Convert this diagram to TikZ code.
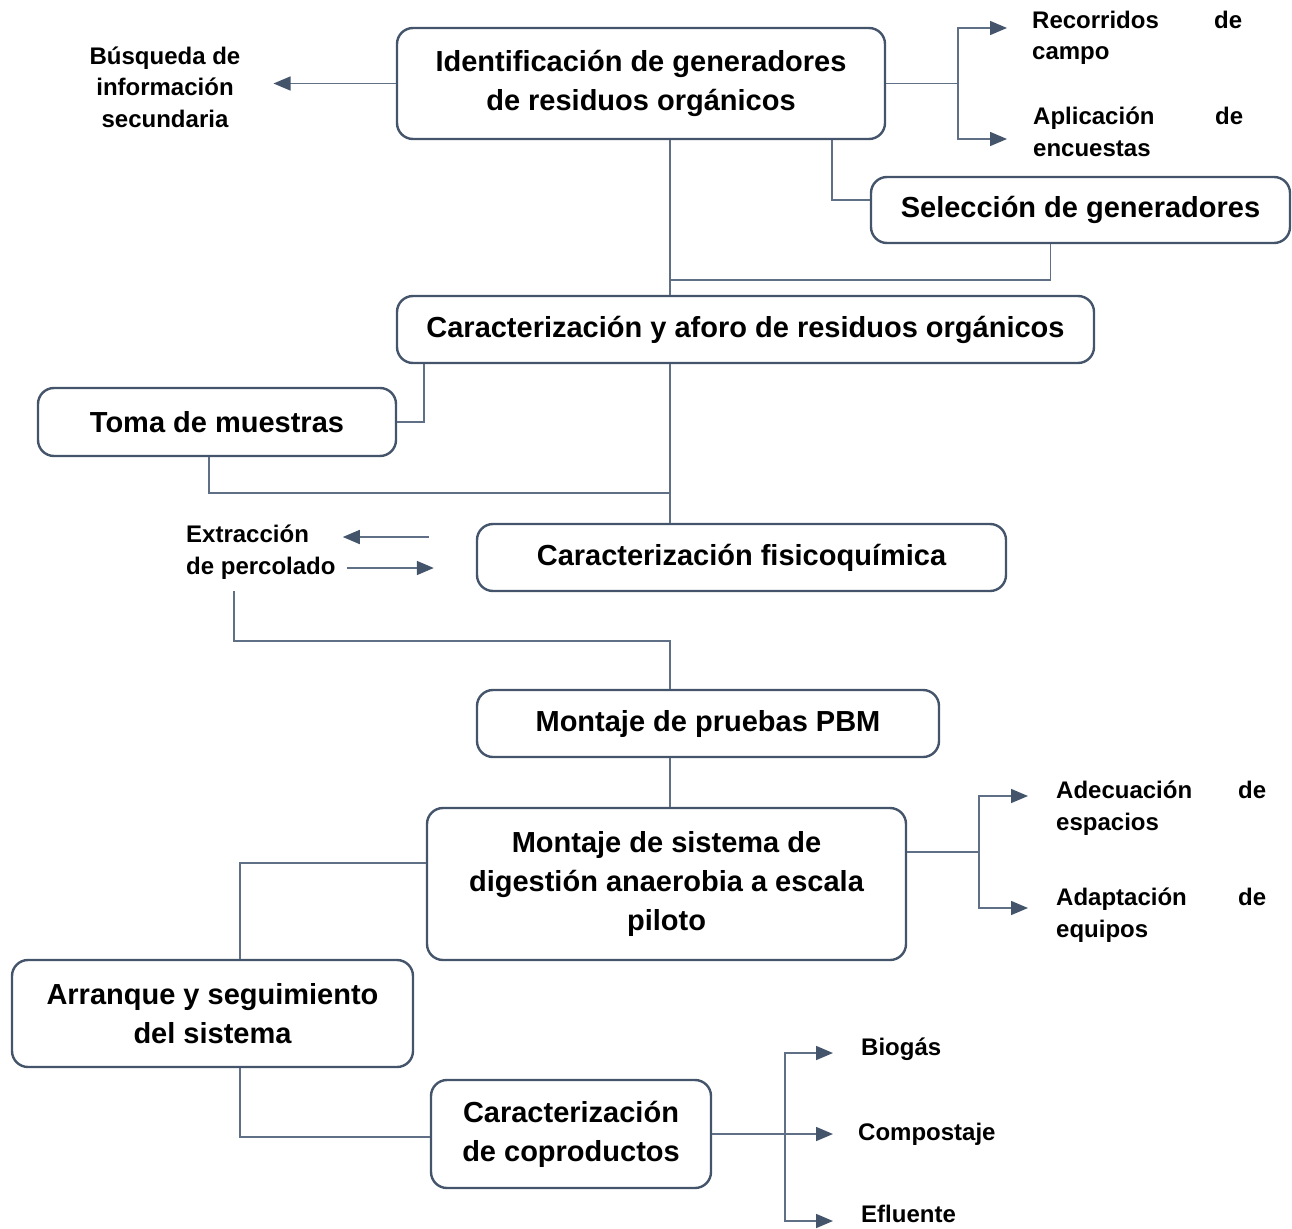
\documentclass[tikz,border=0pt]{standalone}
\usepackage{fontspec}
\setmainfont{Liberation Sans}
\usetikzlibrary{arrows.meta, positioning, calc}
\definecolor{boxline}{HTML}{44546A}
\definecolor{linkline}{HTML}{5F6F85}
\newcommand{\spreadline}[2]{\makebox[210pt][s]{#1\hfill #2}}

\begin{document}
\begin{tikzpicture}[x=1pt, y=-1pt,
    stage/.style={draw=boxline, line width=2.4pt, rounded corners=16pt, fill=white,
        align=center, inner sep=0pt, font=\fontsize{29}{39}\selectfont\bfseries},
    note/.style={inner sep=0pt, font=\fontsize{24}{31.5}\selectfont\bfseries},
    conn/.style={draw=linkline, line width=1.6pt},
    arr/.style={conn, -{Triangle[length=17pt, width=14pt, color=boxline]}}]
    \useasboundingbox (0,0) rectangle (1292,1228);

    % etapas
    \node[stage, minimum width=488pt, minimum height=111pt] (ident) at (641,83.5)
        {Identificación de generadores\\de residuos orgánicos};
    \node[stage, minimum width=419pt, minimum height=66pt] (sel) at (1080.5,210)
        {Selección de generadores};
    \node[stage, minimum width=697pt, minimum height=67pt] (aforo) at (745.5,329.5)
        {Caracterización y aforo de residuos orgánicos};
    \node[stage, minimum width=358pt, minimum height=68pt] (toma) at (217,422)
        {Toma de muestras};
    \node[stage, minimum width=529pt, minimum height=67pt] (fisico) at (741.5,557.5)
        {Caracterización fisicoquímica};
    \node[stage, minimum width=462pt, minimum height=67pt] (pbm) at (708,723.5)
        {Montaje de pruebas PBM};
    \node[stage, minimum width=479pt, minimum height=152pt] (montaje) at (666.5,884)
        {Montaje de sistema de\\digestión anaerobia a escala\\piloto};
    \node[stage, minimum width=401pt, minimum height=107pt] (arranque) at (212.5,1013.5)
        {Arranque y seguimiento\\del sistema};
    \node[stage, minimum width=280pt, minimum height=108pt] (copro) at (571,1134)
        {Caracterización\\de coproductos};

    % actividades
    \node[note, align=center] (busq) at (165,87) {Búsqueda de\\información\\secundaria};
    \node[note, align=left, anchor=west] (reco) at (1032,38) {\spreadline{Recorridos}{de}\\campo};
    \node[note, align=left, anchor=west] (apli) at (1033,132) {\spreadline{Aplicación}{de}\\encuestas};
    \node[note, align=left, anchor=west] (extr) at (186,552) {Extracción\\de percolado};
    \node[note, align=left, anchor=west] (adec) at (1056,808) {\spreadline{Adecuación}{de}\\espacios};
    \node[note, align=left, anchor=west] (adap) at (1056,915) {\spreadline{Adaptación}{de}\\equipos};
    \node[note, anchor=west] (bio) at (861,1049) {Biogás};
    \node[note, anchor=west] (comp) at (858,1134) {Compostaje};
    \node[note, anchor=west] (eflu) at (861,1214) {Efluente};

    % conexiones
    \coordinate (spine) at (670,0);
    \draw[conn] (ident.south -| spine) -- (aforo.north -| spine);
    \draw[conn] ($(ident.south)+(191,0)$) |- ($(sel.west)+(0,-10)$);
    \draw[conn] ($(sel.south)+(-30,0)$) |- ($(spine)+(0,280)$);
    \draw[conn] (aforo.south -| spine) -- (fisico.north -| spine);
    \draw[conn] ($(aforo.south west)+(28,0)$) |- (toma.east);
    \draw[conn] ($(toma.south)+(-8,0)$) |- ($(spine)+(0,493)$);
    \draw[conn] ($(extr.south west)+(48,12)$) |- ($(spine)+(0,641)$) -- (pbm.north -| spine);
    \draw[conn] (pbm.south -| spine) -- (montaje.north -| spine);
    \draw[conn] ($(montaje.west)+(0,-21)$) -| ($(arranque.north)+(27.5,0)$);
    \draw[conn] ($(arranque.south)+(27.5,0)$) |- ($(copro.west)+(0,3)$);

    % flechas
    \draw[arr] (ident.west) -- ($(ident.west -| busq.east)+(33,0)$);
    \draw[conn] (ident.east) -- ++(72,0) coordinate (f1);
    \draw[arr] (f1) |- ($(reco.west)+(-25,-10)$);
    \draw[arr] (f1) |- ($(apli.west)+(-26,7)$);
    \draw[arr] ($(fisico.west)+(-47,-20.5)$) -- ($(extr.east)+(7,-15)$);
    \draw[arr] ($(extr.east)+(11,16)$) -- ($(fisico.west)+(-42,10.5)$);
    \draw[conn] ($(montaje.east)+(0,-32)$) -- ++(72,0) coordinate (f2);
    \draw[arr] (f2) |- ($(adec.west)+(-28,-12)$);
    \draw[arr] (f2) |- ($(adap.west)+(-28,-7)$);
    \draw[conn] (copro.east) -- ++(73,0) coordinate (f3);
    \draw[arr] (f3) |- ($(bio.west)+(-28,4)$);
    \draw[arr] (f3) -- ($(comp.west)+(-25,0)$);
    \draw[arr] (f3) |- ($(eflu.west)+(-28,7)$);
\end{tikzpicture}
\end{document}
